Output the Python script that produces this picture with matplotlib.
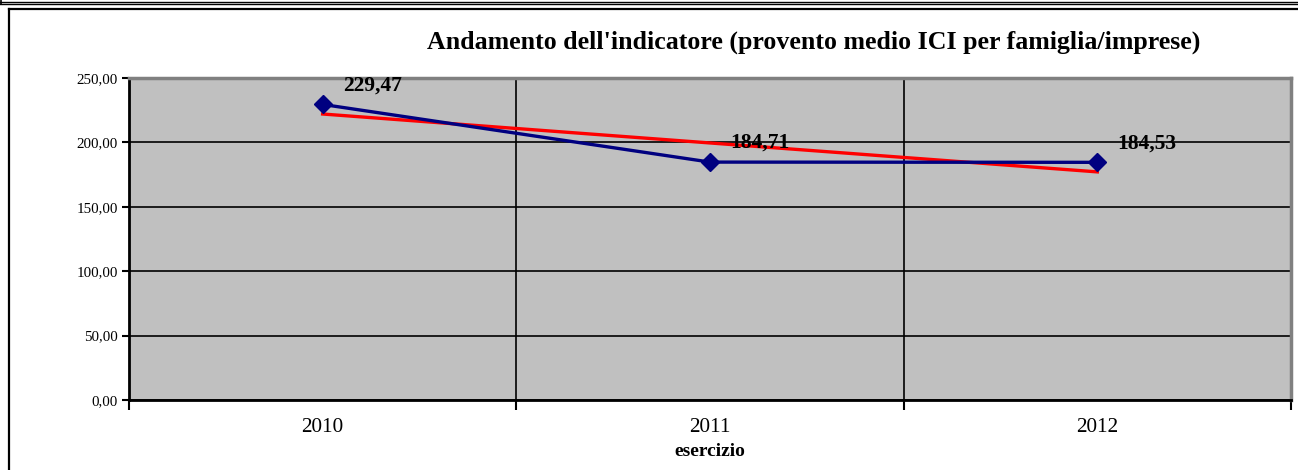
import numpy as np
import matplotlib
matplotlib.use('Agg')
import matplotlib.pyplot as plt
from matplotlib.lines import Line2D

# data
years = ['2010', '2011', '2012']
values = [229.47, 184.71, 184.53]
labels = ['229,47', '184,71', '184,53']
yticks = [0, 50, 100, 150, 200, 250]

plt.rcParams['font.family'] = ['Liberation Serif', 'DejaVu Serif']

W, H = 1298, 470
fig = plt.figure(figsize=(W / 100, H / 100), dpi=100)

# outer frame (excel style)
fig.add_artist(Line2D([1 / W, 1 / W], [1, 1 - 4 / H], color='black', lw=1.2, transform=fig.transFigure))
fig.add_artist(Line2D([0, 1], [1 - 1.5 / H, 1 - 1.5 / H], color='black', lw=1.0, transform=fig.transFigure))
fig.add_artist(Line2D([0, 1], [1 - 4 / H, 1 - 4 / H], color='black', lw=1.0, transform=fig.transFigure))
fig.add_artist(Line2D([8.5 / W, 8.5 / W], [0, 1 - 9 / H], color='black', lw=1.6, transform=fig.transFigure))
fig.add_artist(Line2D([8.5 / W, 1], [1 - 9 / H, 1 - 9 / H], color='black', lw=1.6, transform=fig.transFigure))

ax = fig.add_axes([129 / W, 70 / H, (1291 - 129) / W, (400 - 78) / H])
ax.set_facecolor('#c0c0c0')

x = np.arange(len(years))

# trend line (linear fit)
coef = np.polyfit(x, values, 1)
ax.plot(x, np.polyval(coef, x), color='#ff0000', lw=2.4, zorder=3)

ax.plot(x, values, color='#000080', lw=2.4, marker='D', markersize=9, zorder=4)

for xi, v, lab in zip(x, values, labels):
    ax.annotate(lab, (xi, v), xytext=(20, 19), textcoords='offset pixels',
                ha='left', va='center', fontsize=15.5, fontweight='bold', zorder=5)

ax.set_xlim(-0.5, len(years) - 0.5)
ax.set_ylim(0, 250)
ax.set_yticks(yticks)
ax.set_yticklabels([f'{t:.2f}'.replace('.', ',') for t in yticks], fontsize=10.8)
ax.set_xticks(x)
ax.set_xticklabels(years, fontsize=15.2)
ax.set_xticks(np.arange(-0.5, len(years), 1), minor=True)
ax.tick_params(axis='x', which='major', length=0, pad=13)
ax.tick_params(axis='x', which='minor', length=7, width=1.5, direction='out')
ax.tick_params(axis='y', length=5, width=1.5, direction='out', pad=3)

ax.grid(axis='y', color='black', lw=1.2)
ax.grid(axis='x', which='minor', color='black', lw=1.2)
ax.set_axisbelow(True)

for s in ['left', 'bottom']:
    ax.spines[s].set_color('black')
    ax.spines[s].set_linewidth(2)
for s in ['top', 'right']:
    ax.spines[s].set_color('#808080')
    ax.spines[s].set_linewidth(2.5)

ax.set_xlabel('esercizio', fontsize=14, fontweight='bold', labelpad=4)

fig.text(814 / W, 1 - 42 / H, "Andamento dell'indicatore (provento medio ICI per famiglia/imprese)",
         ha='center', va='center', fontsize=18.6, fontweight='bold')

fig.savefig('out.png', dpi=100)
